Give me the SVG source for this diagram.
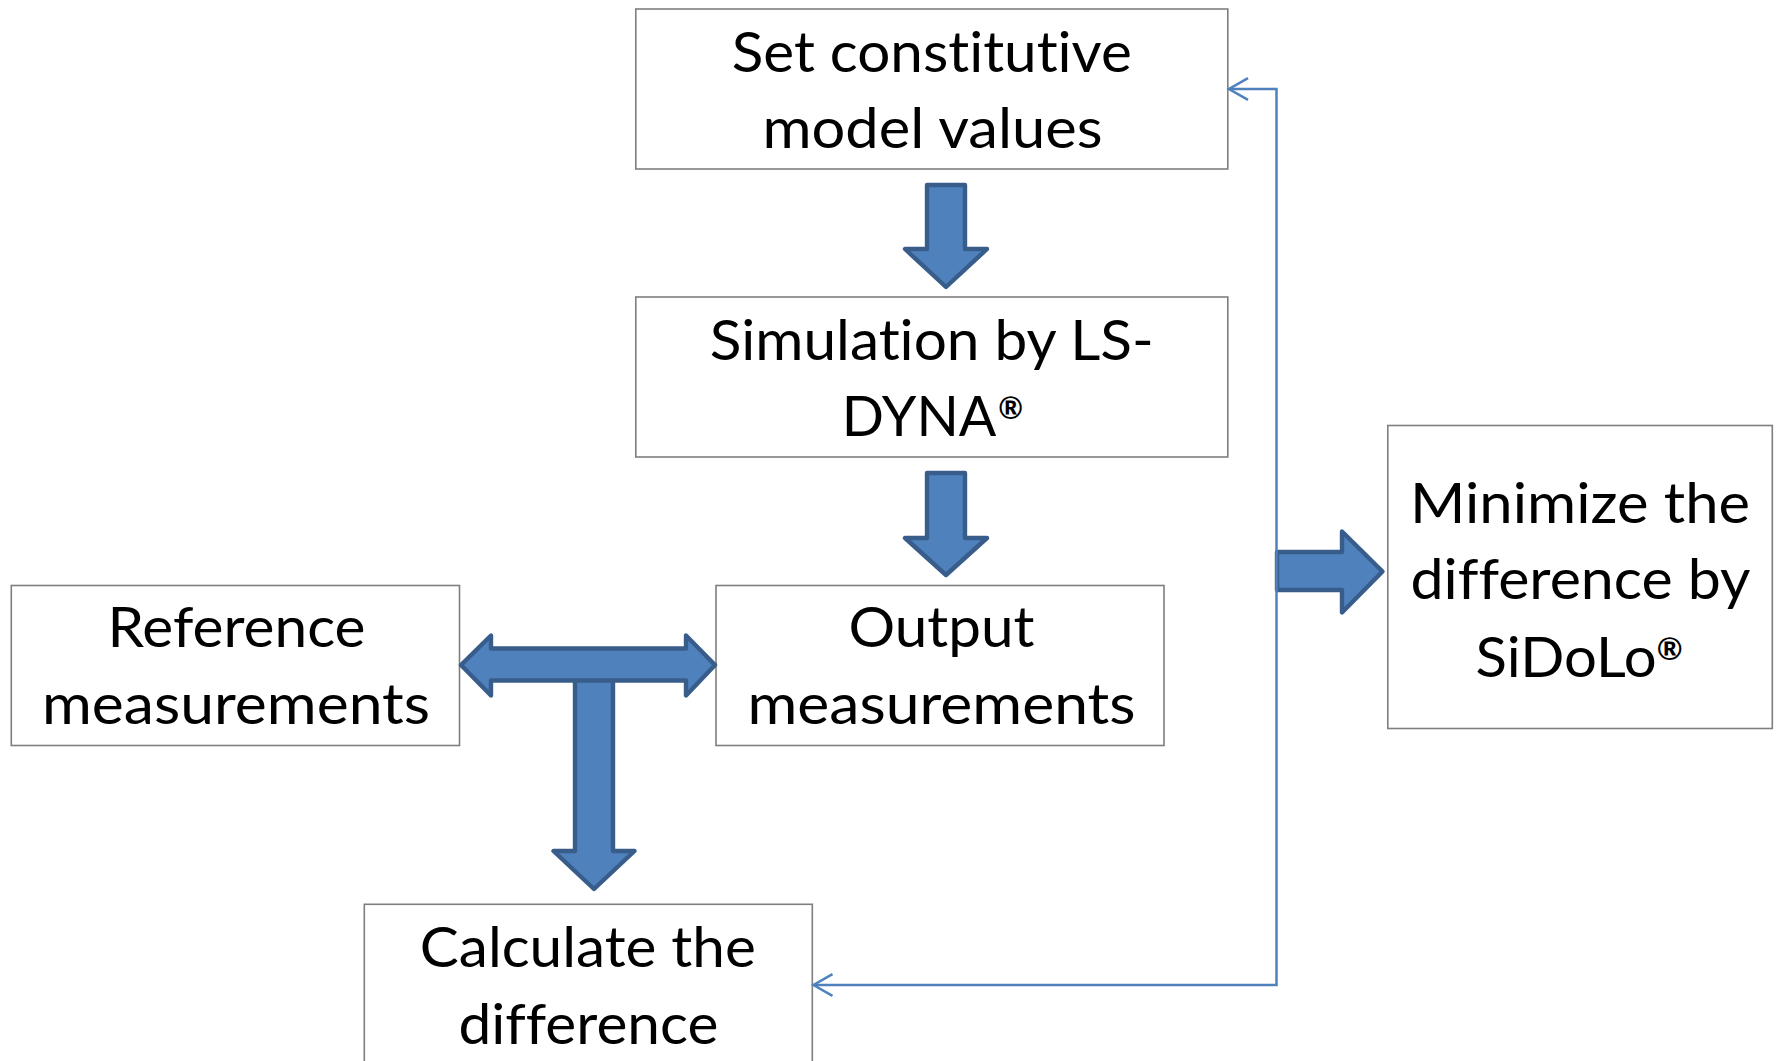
<svg xmlns="http://www.w3.org/2000/svg" width="1779" height="1061" viewBox="0 0 1779 1061">
  <style>
    .box { fill: #ffffff; stroke: #7f7f7f; stroke-width: 1.6; }
    .lbl { font-family: Lato, "Open Sans", "Liberation Sans", sans-serif; font-size: 55.5px; fill: #000000; text-anchor: middle; font-variant-ligatures: none; }
    .reg { font-size: 30px; font-weight: 700; }
    .blk { fill: #4f81bd; stroke: #385d8a; stroke-width: 4.4; stroke-linejoin: round; }
    .link { fill: none; stroke: #4f81bd; stroke-width: 2.5; }
  </style>
  <defs>
    <marker id="open" viewBox="-23 -13 26 26" refX="0" refY="0" markerWidth="26" markerHeight="26" markerUnits="userSpaceOnUse" orient="auto-start-reverse">
      <path d="M-19,-10.8 L0,0 L-19,10.8" fill="none" stroke="#4f81bd" stroke-width="2.5"/>
    </marker>
  </defs>
  <rect width="1779" height="1061" fill="#ffffff"/>

  <g id="set-values">
    <rect class="box" x="635.8" y="9" width="592" height="160"/>
    <text class="lbl" x="931.8" y="71.7" textLength="400" lengthAdjust="spacingAndGlyphs">Set constitutive</text>
    <text class="lbl" x="932.5" y="148.3" textLength="340" lengthAdjust="spacingAndGlyphs">model values</text>
  </g>

  <g id="simulation">
    <rect class="box" x="635.8" y="297" width="592" height="160"/>
    <text class="lbl" x="931.8" y="360" textLength="444" lengthAdjust="spacingAndGlyphs">Simulation by LS-</text>
    <text class="lbl" x="932.4" y="436">DYNA<tspan class="reg" dx="2" dy="-17">®</tspan></text>
  </g>

  <g id="reference">
    <rect class="box" x="11.3" y="585.5" width="448.2" height="160"/>
    <text class="lbl" x="236.5" y="647.3" textLength="258" lengthAdjust="spacingAndGlyphs">Reference</text>
    <text class="lbl" x="236" y="724" textLength="388" lengthAdjust="spacingAndGlyphs">measurements</text>
  </g>

  <g id="output">
    <rect class="box" x="716" y="585.5" width="448" height="160"/>
    <text class="lbl" x="941.5" y="647.3" textLength="186" lengthAdjust="spacingAndGlyphs">Output</text>
    <text class="lbl" x="941.5" y="724" textLength="388" lengthAdjust="spacingAndGlyphs">measurements</text>
  </g>

  <g id="calculate">
    <rect class="box" x="364.3" y="904.3" width="448" height="200"/>
    <text class="lbl" x="587.8" y="967.3" textLength="336" lengthAdjust="spacingAndGlyphs">Calculate the</text>
    <text class="lbl" x="588.4" y="1044.3" textLength="260" lengthAdjust="spacingAndGlyphs">difference</text>
  </g>

  <g id="minimize">
    <rect class="box" x="1387.8" y="425.5" width="384.5" height="303"/>
    <text class="lbl" x="1580" y="523" textLength="340" lengthAdjust="spacingAndGlyphs">Minimize the</text>
    <text class="lbl" x="1580.5" y="599" textLength="340" lengthAdjust="spacingAndGlyphs">difference by</text>
    <text class="lbl" x="1579" y="676.6" textLength="207" lengthAdjust="spacingAndGlyphs">SiDoLo<tspan class="reg" dy="-17">®</tspan></text>
  </g>

  <g id="connectors">
    <!-- block arrows between steps -->
    <polygon class="blk" points="927,185 965,185 965,249 987,249 946,287 905,249 927,249"/>
    <polygon class="blk" points="927,473 965,473 965,538 987,538 946,575 905,538 927,538"/>
    <polygon class="blk" points="575,670 613,670 613,851 634.5,851 594,889 553.5,851 575,851"/>
    <polygon class="blk" points="461,665 491,635.5 491,648.5 686,648.5 686,635.5 715,665 686,695.5 686,680.5 491,680.5 491,695.5"/>
    <polygon class="blk" points="1277,552 1342,552 1342,531.5 1382.5,571.5 1342,612.5 1342,590 1277,590"/>
    <!-- feedback loop -->
    <path class="link" d="M1229,89 H1276.5 V985 H813.5" marker-start="url(#open)" marker-end="url(#open)"/>
  </g>
</svg>
